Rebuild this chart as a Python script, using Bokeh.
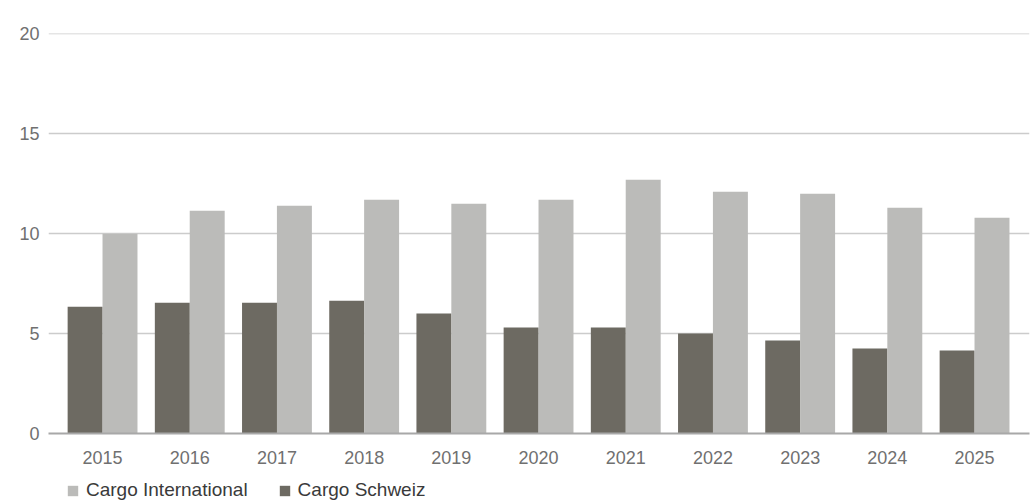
from bokeh.plotting import figure
from bokeh.layouts import column
from bokeh.models import Range1d, FixedTicker, Legend, LegendItem, ColumnDataSource
from bokeh.transform import dodge
from bokeh.embed import file_html
from bokeh.resources import INLINE

years = ["2015", "2016", "2017", "2018", "2019", "2020", "2021", "2022", "2023", "2024", "2025"]
cargo_international = [10.0, 11.15, 11.4, 11.7, 11.5, 11.7, 12.7, 12.1, 12.0, 11.3, 10.8]
cargo_schweiz = [6.35, 6.55, 6.55, 6.65, 6.0, 5.3, 5.3, 5.0, 4.65, 4.25, 4.15]
series_names = ["Cargo International", "Cargo Schweiz"]
y_ticks = [0, 5, 10, 15, 20]

idx = list(range(len(years)))
src = ColumnDataSource(dict(idx=idx, intl=cargo_international, ch=cargo_schweiz))

FONT = "Liberation Sans"
LIGHT = "#bbbbb9"
DARK = "#6d6a62"

p = figure(width=1033, height=470, output_backend="svg", toolbar_location=None,
           x_range=Range1d(-0.62, 10.63), y_range=Range1d(0, 20.02),
           min_border_left=48, min_border_right=4, min_border_top=33, min_border_bottom=37)
p.outline_line_color = None
p.background_fill_color = "white"

r_ch = p.vbar(x=dodge("idx", -0.2), top="ch", width=0.401, source=src,
              fill_color=DARK, line_color=None)
r_intl = p.vbar(x=dodge("idx", 0.2), top="intl", width=0.401, source=src,
                fill_color=LIGHT, line_color=None)

p.xgrid.grid_line_color = None
p.ygrid.grid_line_color = "#cccccc"
p.ygrid.grid_line_width = 1.3
p.yaxis.ticker = FixedTicker(ticks=y_ticks)
p.ygrid.ticker = FixedTicker(ticks=y_ticks)
p.yaxis.axis_line_color = None
p.yaxis.major_tick_line_color = None
p.yaxis.minor_tick_line_color = None
p.yaxis.major_label_standoff = 3
p.yaxis.major_label_text_font = FONT
p.yaxis.major_label_text_font_size = "18px"
p.yaxis.major_label_text_color = "#707070"

p.xaxis.ticker = FixedTicker(ticks=idx)
p.xaxis.major_label_overrides = {i: y for i, y in zip(idx, years)}
p.xaxis.axis_line_color = "#a8a8a8"
p.xaxis.axis_line_width = 2
p.xaxis.major_tick_line_color = None
p.xaxis.minor_tick_line_color = None
p.xaxis.major_label_standoff = 11
p.xaxis.major_label_text_font = FONT
p.xaxis.major_label_text_font_size = "18px"
p.xaxis.major_label_text_color = "#707070"

# Legend strip below the chart (legend keys reuse the series' glyph styles)
lg = figure(width=1033, height=33, output_backend="svg", toolbar_location=None,
            x_range=Range1d(0, 1), y_range=Range1d(0, 1),
            x_axis_location=None, y_axis_location=None,
            min_border_left=0, min_border_right=0, min_border_top=0, min_border_bottom=0)
lg.grid.visible = False
lg.outline_line_color = None
k_intl = lg.vbar(x="idx", top="intl", width=0.4, source=src, fill_color=LIGHT, line_color=None)
k_ch = lg.vbar(x="idx", top="ch", width=0.4, source=src, fill_color=DARK, line_color=None)
k_intl.visible = False
k_ch.visible = False

legend = Legend(items=[LegendItem(label=series_names[0], renderers=[k_intl]),
                       LegendItem(label=series_names[1], renderers=[k_ch])],
                orientation="horizontal", location=(18, 2),
                glyph_width=13, glyph_height=13, label_standoff=7, spacing=30,
                padding=0, margin=0, border_line_color=None, background_fill_alpha=0,
                inactive_fill_alpha=0,
                label_text_font=FONT, label_text_font_size="19px",
                label_text_color="#3a3a3a", label_height=14)
lg.add_layout(legend, "center")

layout = column(p, lg, spacing=0)
open("out.html", "w").write(file_html(layout, INLINE))
